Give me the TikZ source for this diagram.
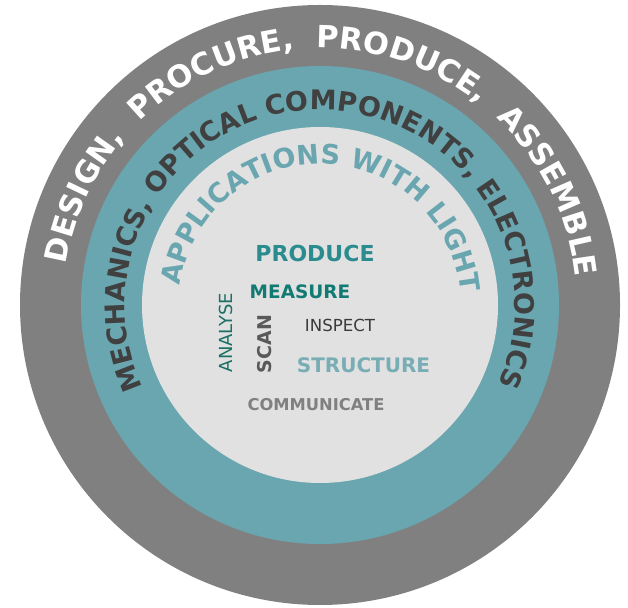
\documentclass[tikz,border=0pt]{standalone}
\usepackage{fontspec}
\setmainfont{DejaVu Sans}
\usetikzlibrary{decorations.text}

\definecolor{ringgray}{HTML}{808080}
\definecolor{ringteal}{HTML}{6AA6B0}
\definecolor{ringlight}{HTML}{E1E1E1}
\definecolor{darktext}{HTML}{404040}
\definecolor{midteal}{HTML}{2B8C8F}
\definecolor{deepteal}{HTML}{117A73}
\definecolor{pineteal}{HTML}{1D7065}
\definecolor{paleteal}{HTML}{78ADB5}
\definecolor{scangray}{HTML}{595959}
\definecolor{inkgray}{HTML}{3A3A3A}

\begin{document}
\begin{tikzpicture}[x=1pt,y=1pt,
  word/.style={inner sep=0pt},
  ringtext/.style={decorate, decoration={text along path, text align=center, text color=#1}}]
\useasboundingbox (0,0) rectangle (628,607);
\coordinate (c) at (320,302);

% the three rings
\fill[ringgray] (c) circle[radius=300];
\fill[ringteal] (c) circle[radius=239];
\fill[ringlight] (c) circle[radius=178];

% text round the rings
\path[ringtext=white, decoration={text={|\fontsize{30.5}{36}\selectfont\bfseries|DESIGN, ~PROCURE, ~PRODUCE, ~ASSEMBLE}}]
  ([shift={(188.5:257)}]c) arc[start angle=188.5, end angle=-11.5, radius=257];
\path[ringtext=darktext, decoration={text={|\fontsize{27}{32}\selectfont\bfseries|MECHANICS, OPTICAL COMPONENTS, ELECTRONICS}}]
  ([shift={(215.5:195)}]c) arc[start angle=215.5, end angle=-34.5, radius=195];
\path[ringtext=ringteal, decoration={text={|\fontsize{27}{32}\selectfont\bfseries|APPLICATIONS WITH LIGHT}}]
  ([shift={(188.5:141)}]c) arc[start angle=188.5, end angle=-11.5, radius=141];

% words in the centre
\node[word, text=midteal, font=\fontsize{22}{26}\selectfont\bfseries] (produce) at (315,353.5) {PRODUCE};
\node[word, text=deepteal, font=\fontsize{18.5}{22}\selectfont\bfseries] (measure) at (300,315) {MEASURE};
\node[word, text=pineteal, font=\fontsize{18}{22}\selectfont, rotate=90] (analyse) at (225.5,274.5) {ANALYSE};
\node[word, text=scangray, font=\fontsize{19}{22}\selectfont\bfseries, rotate=90] (scan) at (265,263) {SCAN};
\node[word, text=inkgray, font=\fontsize{16.6}{20}\selectfont] (inspect) at (340,281.5) {INSPECT};
\node[word, text=paleteal, font=\fontsize{20}{24}\selectfont\bfseries] (structure) at (363.5,241.5) {STRUCTURE};
\node[word, text=ringgray, font=\fontsize{16.3}{20}\selectfont\bfseries] (communicate) at (316,202) {COMMUNICATE};
\end{tikzpicture}
\end{document}
